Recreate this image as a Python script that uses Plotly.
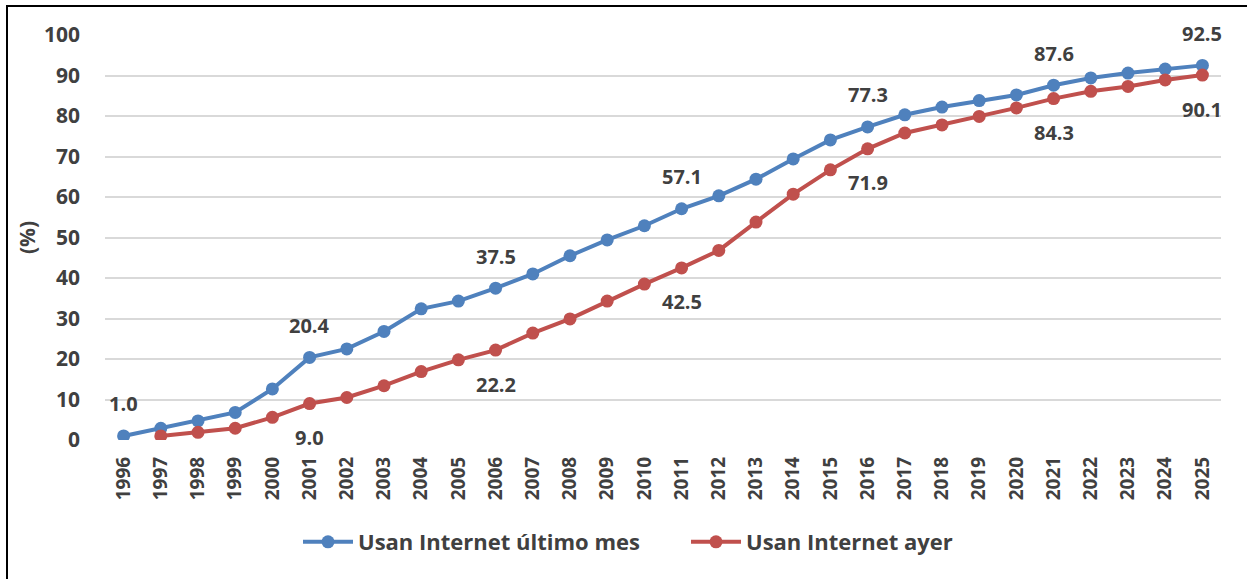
import plotly.graph_objects as go

years = [str(y) for y in range(1996, 2026)]
ultimo_mes = [1.0, 2.9, 4.7, 6.8, 12.6, 20.4, 22.5, 26.8, 32.4, 34.3,
              37.5, 41.0, 45.5, 49.4, 52.9, 57.1, 60.3, 64.4, 69.4, 74.1,
              77.3, 80.3, 82.2, 83.8, 85.2, 87.6, 89.4, 90.6, 91.6, 92.5]
ayer_years = [str(y) for y in range(1997, 2026)]
ayer = [1.0, 1.9, 2.9, 5.6, 9.0, 10.5, 13.4, 16.9, 19.8, 22.2,
        26.4, 29.9, 34.3, 38.5, 42.5, 46.8, 53.8, 60.7, 66.7, 71.9,
        75.8, 77.8, 79.9, 82.0, 84.3, 86.1, 87.3, 88.9, 90.1]
blue_label_years = ["1996", "2001", "2006", "2011", "2016", "2021", "2025"]
red_label_years = ["2001", "2006", "2011", "2016", "2021", "2025"]

BLUE = "#4F81BD"
RED = "#C0504D"
TXT = "#404040"
FONT = "Open Sans"

fig = go.Figure()
fig.add_trace(go.Scatter(x=years, y=ultimo_mes, mode="lines+markers",
                         name="Usan Internet último mes",
                         line=dict(color=BLUE, width=4),
                         marker=dict(color=BLUE, size=13)))
fig.add_trace(go.Scatter(x=ayer_years, y=ayer, mode="lines+markers",
                         name="Usan Internet ayer",
                         line=dict(color=RED, width=4),
                         marker=dict(color=RED, size=13)))

lab_font = dict(family=FONT, size=20, color=TXT, weight="bold")
for yr, v in zip(years, ultimo_mes):
    if yr in blue_label_years:
        fig.add_annotation(x=years.index(yr), y=v, text=f"{v:.1f}", showarrow=False,
                           yshift=32, font=lab_font)
for yr, v in zip(ayer_years, ayer):
    if yr in red_label_years:
        fig.add_annotation(x=years.index(yr), y=v, text=f"{v:.1f}", showarrow=False,
                           yshift=-34, font=lab_font)

L, R, T, B = 105, 26, 35, 139
W, H = 1247, 579
pw, ph = W - L - R, H - T - B
def px(x):
    return (x - L) / pw
def py(y):
    return (H - B - y) / ph

fig.add_shape(type="rect", xref="paper", yref="paper",
              x0=px(7), x1=px(1260), y0=py(590), y1=py(6),
              line=dict(color="black", width=2), fillcolor="rgba(0,0,0,0)", layer="below")

fig.update_layout(
    width=W, height=H,
    margin=dict(l=L, r=R, t=T, b=B, autoexpand=False),
    plot_bgcolor="white", paper_bgcolor="white",
    font=dict(family=FONT, color=TXT),
    showlegend=True,
    legend=dict(orientation="h", x=px(298), xanchor="left", y=py(542), yanchor="middle",
                font=dict(family=FONT, size=22, color=TXT, weight="bold"),
                itemwidth=50, entrywidth=323, entrywidthmode="pixels", traceorder="normal"),
    xaxis=dict(type="category", categoryorder="array", categoryarray=years,
               range=[-0.5, 29.5], tickangle=-90, showgrid=False, zeroline=False,
               showline=False, ticks="", ticklabelstandoff=12,
               tickfont=dict(family=FONT, size=19, color=TXT, weight="bold")),
    yaxis=dict(range=[0, 100], dtick=10, showgrid=True, gridcolor="#D9D9D9", gridwidth=1.5,
               zeroline=False, showline=False, ticks="", ticklabelstandoff=24,
               tickfont=dict(family=FONT, size=21, color=TXT, weight="bold"),
               title=dict(text="(%)", standoff=2,
                          font=dict(family=FONT, size=21, color=TXT, weight="bold"))),
)

fig.write_html("out.html", config={"displayModeBar": False},
               post_script="document.body.style.margin='0';")
